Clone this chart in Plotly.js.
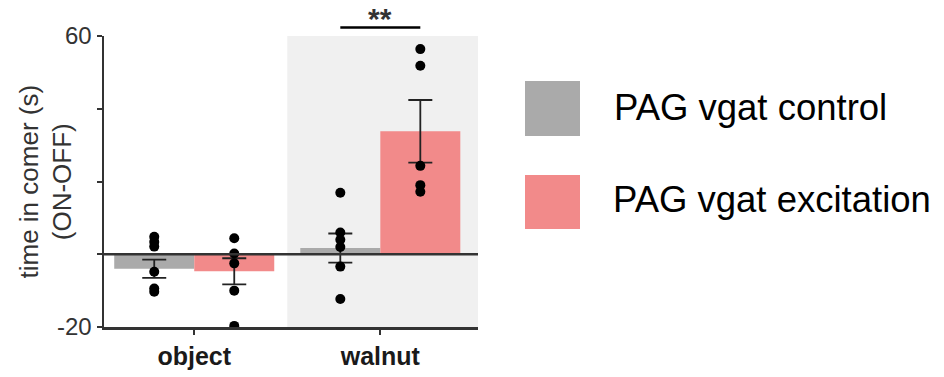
<!DOCTYPE html>
<html>
<head>
<meta charset="utf-8">
<script src="https://cdn.plot.ly/plotly-3.0.1.min.js"></script>
<style>html,body{margin:0;padding:0;background:#fff;}#chart{width:944px;height:377px;}</style>
</head>
<body>
<div id="chart"></div>
<script>
// ---- data ----
const categories = ['object', 'walnut'];
const seriesNames = ['PAG vgat control', 'PAG vgat excitation'];
const controlMean = [-4.0, 1.7];
const controlSEM = [2.5, 4.0];
const excitationMean = [-4.7, 33.8];
const excitationSEM = [3.6, 8.6];
const controlPointsObject = [4.8, 3.4, 2.1, -4.8, -9.4, -10.3];
const controlPointsWalnut = [16.9, 6.0, 4.0, 2.0, -3.4, -12.3];
const excitationPointsObject = [4.4, 0.2, -2.5, -10.0, -19.7];
const excitationPointsWalnut = [56.4, 51.8, 24.3, 19.0, 17.2];
const yTickVals = [-20, 0, 20, 40, 60];
const yTickText = ['-20', '', '', '', '60'];
const sigLabel = '**';
const yTitle = 'time in comer (s)<br>(ON-OFF)';

// ---- styling / layout constants ----
const colors = ['#aaaaaa', '#f28a8a'];
const bargap = 0.14;
const barW = (1 - bargap) / 2;
const W = 944, H = 377;
const M = {l: 104, r: 466, t: 36, b: 50};
const pw = W - M.l - M.r, ph = H - M.t - M.b;
const px2x = p => (p - M.l) / pw;
const px2y = p => (H - M.b - p) / ph;
const xRange = [-0.485, 1.525];
const axisCol = '#333333';
const FONT = 'Liberation Sans, Arial';

const idx = categories.map((c, i) => i);
const pointSets = [
  [controlPointsObject, controlPointsWalnut],
  [excitationPointsObject, excitationPointsWalnut]
];
const means = [controlMean, excitationMean];
const sems = [controlSEM, excitationSEM];

const traces = [];
for (let s = 0; s < 2; s++) {
  traces.push({
    type: 'bar', x: idx, y: means[s], name: seriesNames[s],
    marker: {color: colors[s]}, showlegend: false, hoverinfo: 'y',
    error_y: {type: 'data', array: sems[s], visible: true, color: '#222', thickness: 1.8, width: 12}
  });
}
for (let s = 0; s < 2; s++) {
  const xs = [], ys = [];
  pointSets[s].forEach((pts, ci) => {
    pts.forEach(v => { xs.push(ci + (s - 0.5) * barW); ys.push(v); });
  });
  traces.push({
    type: 'scatter', mode: 'markers', x: xs, y: ys, showlegend: false,
    marker: {color: '#000', size: 10}, hoverinfo: 'y'
  });
}

const shapes = [
  {type: 'rect', xref: 'x', yref: 'y', x0: 0.5, x1: xRange[1], y0: -20, y1: 60,
   fillcolor: '#f0f0f0', line: {width: 0}, layer: 'below'},
  {type: 'line', xref: 'x', yref: 'y', x0: xRange[0], x1: xRange[1], y0: 0, y1: 0,
   line: {color: axisCol, width: 2.5}, layer: 'above'},
  {type: 'line', xref: 'x', yref: 'paper', x0: 1 - barW / 2, x1: 1 + barW / 2,
   y0: px2y(27.5), y1: px2y(27.5), line: {color: '#000', width: 2.5}},
  // legend swatches
  {type: 'rect', xref: 'paper', yref: 'paper', x0: px2x(525), x1: px2x(580), y0: px2y(136), y1: px2y(81),
   fillcolor: colors[0], line: {width: 0}},
  {type: 'rect', xref: 'paper', yref: 'paper', x0: px2x(525), x1: px2x(580), y0: px2y(229), y1: px2y(175),
   fillcolor: colors[1], line: {width: 0}}
];

const annotations = [
  {text: sigLabel, xref: 'x', yref: 'paper', x: 1, y: px2y(18), showarrow: false,
   font: {family: FONT, size: 30, color: '#333', weight: 'bold'}, xanchor: 'center', yanchor: 'middle'},
  {text: yTitle, xref: 'paper', yref: 'paper', x: px2x(45), y: 0.5, textangle: -90, showarrow: false,
   font: {family: FONT, size: 26, color: '#333'}, xanchor: 'center', yanchor: 'middle'},
  {text: seriesNames[0], xref: 'paper', yref: 'paper', x: px2x(612), y: px2y(107), showarrow: false,
   font: {family: FONT, size: 36.5, color: '#000'}, xanchor: 'left', yanchor: 'middle'},
  {text: seriesNames[1], xref: 'paper', yref: 'paper', x: px2x(611), y: px2y(199), showarrow: false,
   font: {family: FONT, size: 36.5, color: '#000'}, xanchor: 'left', yanchor: 'middle'}
];

const layout = {
  width: W, height: H, margin: M, paper_bgcolor: '#fff', plot_bgcolor: 'rgba(0,0,0,0)',
  barmode: 'group', bargap: bargap, bargroupgap: 0, showlegend: false,
  font: {family: FONT, color: axisCol},
  xaxis: {range: xRange, tickvals: idx, ticktext: categories.map(c => '<b>' + c + '</b>'),
          ticks: 'outside', ticklen: 5, tickwidth: 2, tickcolor: axisCol,
          showline: true, linecolor: axisCol, linewidth: 2.5, showgrid: false, zeroline: false,
          tickfont: {size: 25, color: '#1a1a1a'}, fixedrange: true},
  yaxis: {range: [-20, 60], tickvals: yTickVals, ticktext: yTickText,
          ticks: 'outside', ticklen: 5, tickwidth: 2, tickcolor: axisCol,
          showline: true, linecolor: axisCol, linewidth: 2.5, showgrid: false, zeroline: false,
          tickfont: {size: 24, color: '#333'}, fixedrange: true},
  shapes: shapes, annotations: annotations
};

Plotly.newPlot('chart', traces, layout, {displayModeBar: false, staticPlot: true});
</script>
</body>
</html>
